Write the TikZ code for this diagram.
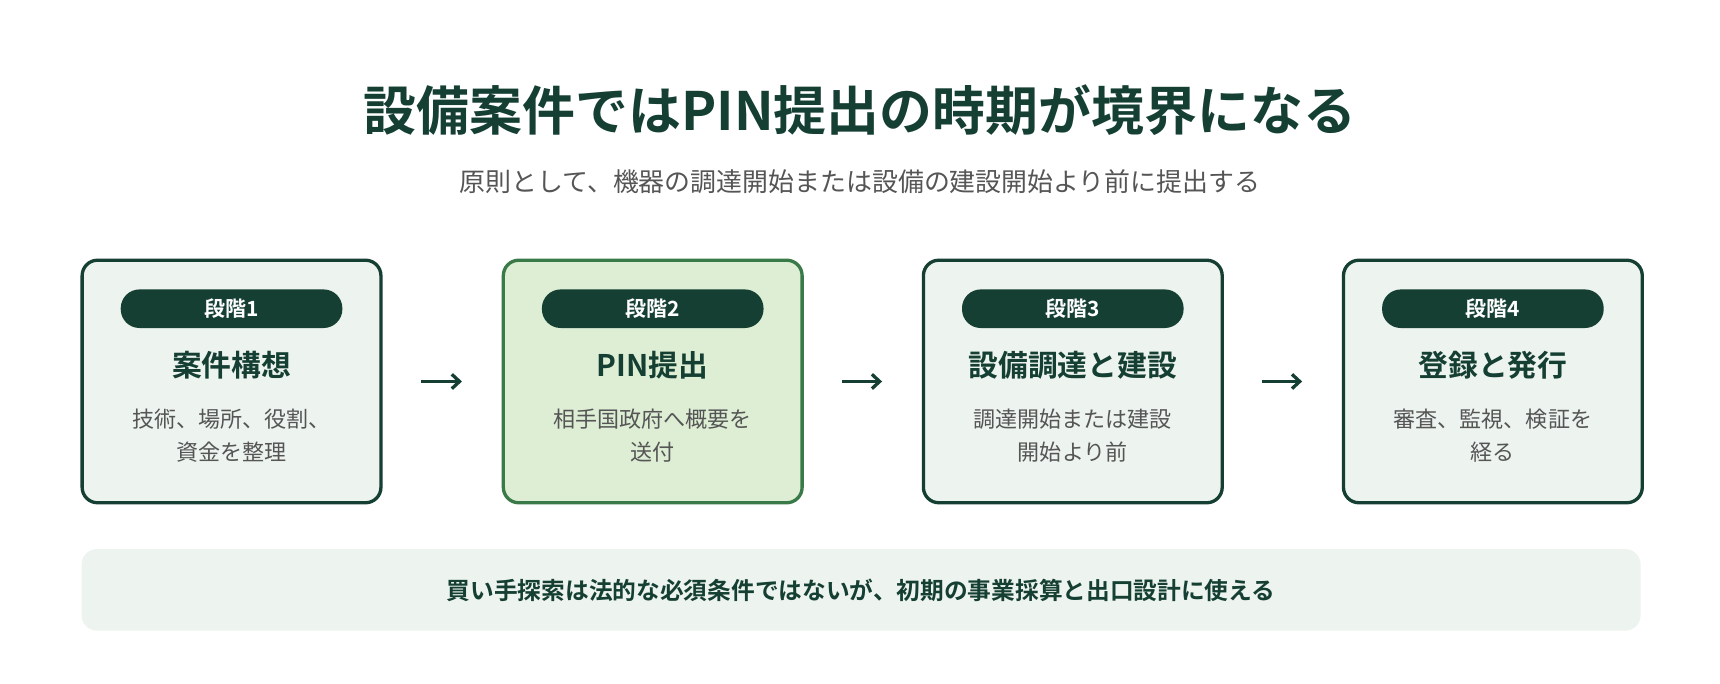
\documentclass[tikz,border=0pt]{standalone}
\usepackage{fontspec}
\usetikzlibrary{arrows.meta,calc}
\setmainfont{Noto Sans CJK JP}
\newfontfamily\jpb{Noto Sans CJK JP Bold}
\definecolor{dg}{HTML}{143F32}
\definecolor{lf}{HTML}{EDF3EE}
\definecolor{gf}{HTML}{DDEED5}
\definecolor{gb}{HTML}{3A7A48}
\definecolor{tx}{HTML}{555555}
\begin{document}
\begin{tikzpicture}[x=1pt,y=-1pt,
 box/.style={draw=dg,line width=3pt,fill=lf,rounded corners=14pt,minimum width=271pt,minimum height=220pt,inner sep=0},
 hbox/.style={box,draw=gb,fill=gf},
 pill/.style={fill=dg,rounded corners=17pt,minimum width=201pt,minimum height=35pt,text=white,font=\jpb\fontsize{19}{21}\selectfont,inner sep=0},
 st/.style={text=dg,font=\jpb\fontsize{27}{30}\selectfont},
 ds/.style={text=tx,font=\fontsize{20}{30}\selectfont,align=center},
 arr/.style={draw=dg,line width=3pt,-{Straight Barb[length=7pt,width=13pt]}}]
\useasboundingbox (0,0) rectangle (1560,620);
\node[text=dg,font=\jpb\fontsize{48}{54}\selectfont] (t) at (780,100) {設備案件ではPIN提出の時期が境界になる};
\node[text=tx,font=\fontsize{23.5}{28}\selectfont] (s) at (780,165) {原則として、機器の調達開始または設備の建設開始より前に提出する};
\foreach \i/\x/\k/\n/\h/\d in {1/210/box/段階1/案件構想/{技術、場所、役割、\\資金を整理},2/592/hbox/段階2/PIN提出/{相手国政府へ概要を\\送付},3/973/box/段階3/設備調達と建設/{調達開始または建設\\開始より前},4/1354/box/段階4/登録と発行/{審査、監視、検証を\\経る}}{
 \node[\k] (b\i) at (\x,346) {};
 \node[pill] (p\i) at (\x,280) {\n};
 \node[st] (h\i) at (\x,331) {\h};
 \node[ds] (d\i) at (\x,395) {\d};
}
\foreach \a/\b in {1/2,2/3,3/4}{
 \draw[arr] ($(b\a.east)+(35,0)$) -- ($(b\b.west)+(-36,0)$);
}
\node[fill=lf,rounded corners=14pt,minimum width=1414pt,minimum height=74pt] (bar) at (781,535) {};
\node[text=dg,font=\jpb\fontsize{21.5}{24}\selectfont] (bt) at (bar) {買い手探索は法的な必須条件ではないが、初期の事業採算と出口設計に使える};
\end{tikzpicture}
\end{document}
